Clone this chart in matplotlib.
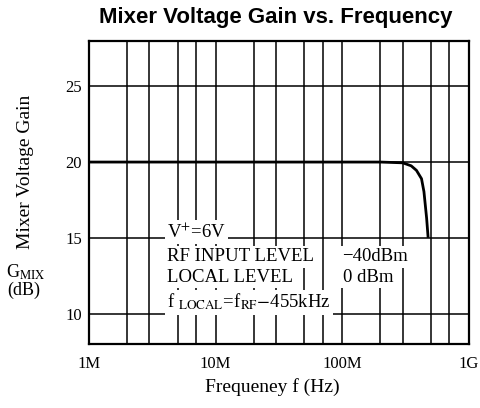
import matplotlib
matplotlib.use("Agg")
import matplotlib.pyplot as plt
from matplotlib.ticker import LogLocator, FixedLocator, NullFormatter

# values
freq_hz = [1e6, 1e7, 1e8, 2e8, 3e8, 3.5e8, 3.85e8, 4.22e8, 4.41e8, 4.63e8, 4.76e8]
gain_db = [20.0, 20.0, 20.0, 20.0, 19.95, 19.75, 19.45, 18.9, 18.05, 16.3, 15.0]

x_ticks = [1e6, 1e7, 1e8, 1e9]
x_labels = ["1M", "10M", "100M", "1G"]
y_ticks = [10, 15, 20, 25]

cond_labels = ["RF INPUT LEVEL", "LOCAL LEVEL"]
cond_values = ["\u221240dBm", "0 dBm"]

plt.rcParams['font.family'] = ['Liberation Serif', 'DejaVu Serif']
plt.rcParams['mathtext.fontset'] = 'stix'

fig = plt.figure(figsize=(4.81, 4.08), dpi=100)
ax = fig.add_axes([0.185, 0.157, 0.79, 0.743])

ax.plot(freq_hz, gain_db, color='black', lw=2.0, solid_capstyle='butt', zorder=3)

ax.set_xscale('log')
ax.set_xlim(1e6, 1e9)
ax.set_ylim(8, 28)
ax.xaxis.set_major_locator(FixedLocator(x_ticks))
ax.set_xticklabels(x_labels)
ax.xaxis.set_minor_locator(LogLocator(base=10, subs=[2, 3, 5, 7]))
ax.xaxis.set_minor_formatter(NullFormatter())
ax.set_yticks(y_ticks)
ax.tick_params(which='both', length=0, labelsize=12)
ax.tick_params(axis='x', pad=9)
ax.tick_params(axis='y', pad=5)
ax.grid(True, which='both', axis='x', color='black', lw=1.1)
ax.grid(True, which='major', axis='y', color='black', lw=1.1)
for s in ax.spines.values():
    s.set_linewidth(1.6)

box = dict(facecolor='white', edgecolor='none', pad=1.5)
tkw = dict(transform=ax.transAxes, fontsize=13.5, va='center', ha='left', zorder=4, bbox=box)
ax.text(0.205, 0.369, r"V$^{+}$=6V", **tkw)
ax.text(0.205, 0.287, cond_labels[0], **tkw)
ax.text(0.205, 0.218, cond_labels[1], **tkw)
ax.text(0.665, 0.287, cond_values[0], **tkw)
ax.text(0.668, 0.218, cond_values[1], **tkw)
ax.text(0.205, 0.138, r"f $_{\mathrm{LOCAL}}$=f$_{\mathrm{RF}}$$-$455kHz", **tkw)

fig.text(0.574, 0.956, "Mixer Voltage Gain vs. Frequency", ha='center', va='center',
         fontsize=16, fontweight='bold', family='Liberation Sans')
fig.text(0.052, 0.578, "Mixer Voltage Gain", rotation=90, ha='center', va='center', fontsize=14)
fig.text(0.054, 0.333, r"G$_{\mathrm{MIX}}$", ha='center', va='center', fontsize=13)
fig.text(0.05, 0.289, "(dB)", ha='center', va='center', fontsize=13)
fig.text(0.566, 0.051, "Frequeney f (Hz)", ha='center', va='center', fontsize=14)

fig.savefig("out.png", dpi=100)
